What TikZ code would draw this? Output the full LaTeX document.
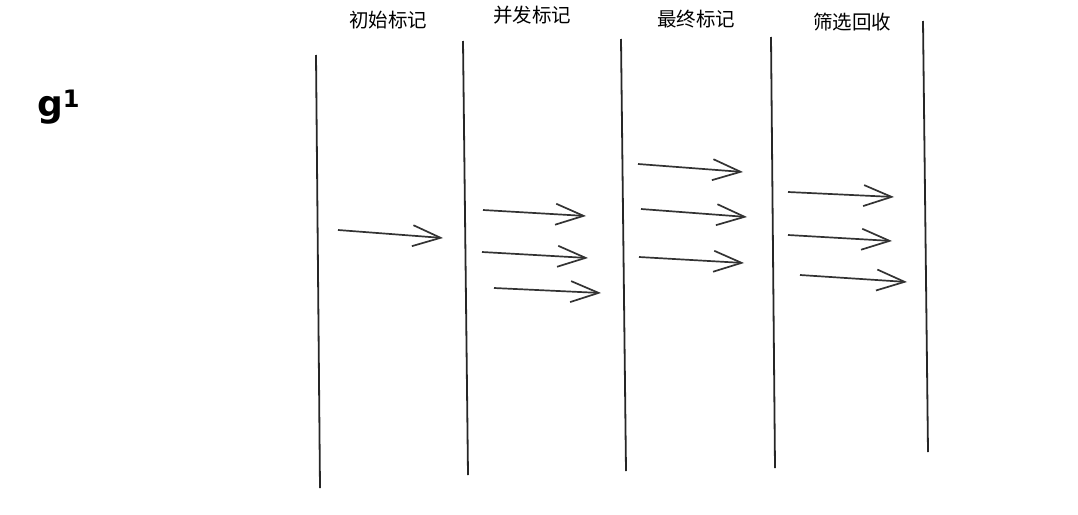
\documentclass[tikz,border=0pt]{standalone}
\usepackage{fontspec}
\newfontfamily\cjk{Noto Sans CJK SC}
\newfontfamily\gfont{DejaVu Sans}
\usetikzlibrary{arrows.meta}
\begin{document}
\begin{tikzpicture}[x=1pt,y=-1pt,
  vline/.style={draw=black!85,line width=1.8pt},
  flow/.style={draw=black!80,line width=1.7pt,-{Straight Barb[length=28pt,width=21pt,line width=1.7pt]}},
  head/.style={font=\cjk\fontsize{19.5}{20}\selectfont,inner sep=0pt,text=black},
  lab/.style={font=\gfont\bfseries\fontsize{36}{38}\selectfont,inner sep=0pt}]
\useasboundingbox (0,0) rectangle (1078,514);
% vertical lines
\coordinate (v1t) at (316,55);  \coordinate (v1b) at (320,488);
\coordinate (v2t) at (463,41);  \coordinate (v2b) at (468,475);
\coordinate (v3t) at (621,39);  \coordinate (v3b) at (626,471);
\coordinate (v4t) at (771,37);  \coordinate (v4b) at (775,468);
\coordinate (v5t) at (923,21);  \coordinate (v5b) at (928,452);
\foreach \i in {1,...,5} \draw[vline] (v\i t) -- (v\i b);
% headings
\node[head] (h1) at (388,20) {初始标记};
\node[head] (h2) at (532,15) {并发标记};
\node[head] (h3) at (696,19) {最终标记};
\node[head] (h4) at (852,22) {筛选回收};
% label
\node[lab,anchor=base west] (g1) at (37,116) {g\raisebox{9pt}{\fontsize{24}{26}\selectfont 1}};
% arrows
\coordinate (a1s) at (338,230); \coordinate (a1e) at (443,238);
\coordinate (a2s) at (483,210); \coordinate (a2e) at (586,216);
\coordinate (a3s) at (482,252); \coordinate (a3e) at (588,258);
\coordinate (a4s) at (494,288); \coordinate (a4e) at (601,293);
\coordinate (a5s) at (638,164); \coordinate (a5e) at (743,172);
\coordinate (a6s) at (641,209); \coordinate (a6e) at (747,217);
\coordinate (a7s) at (639,257); \coordinate (a7e) at (744,263);
\coordinate (a8s) at (788,192); \coordinate (a8e) at (894,197);
\coordinate (a9s) at (788,235); \coordinate (a9e) at (892,241);
\coordinate (a10s) at (800,275); \coordinate (a10e) at (907,282);
\foreach \i in {1,...,10} \draw[flow] (a\i s) -- (a\i e);
\end{tikzpicture}
\end{document}
